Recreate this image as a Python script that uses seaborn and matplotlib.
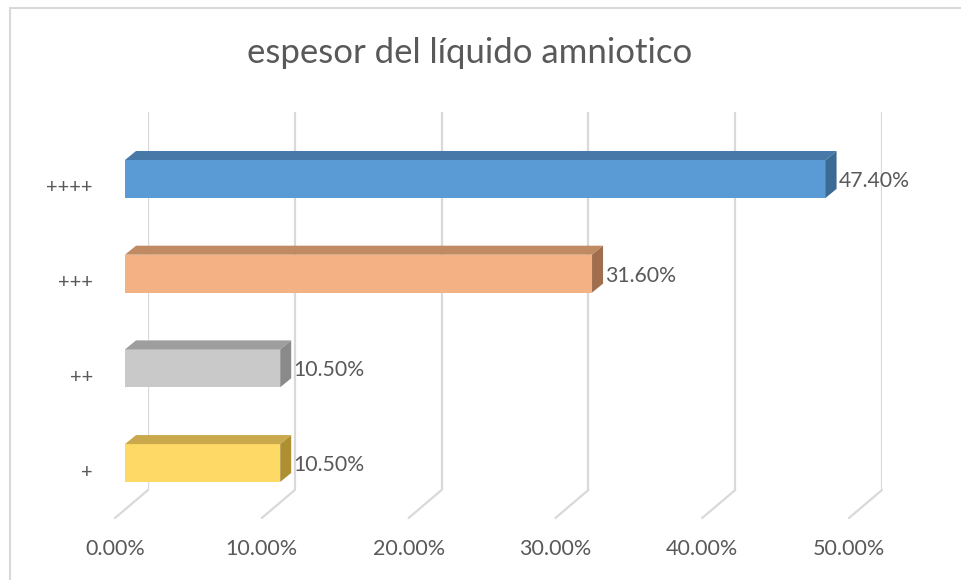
import matplotlib
matplotlib.use("Agg")
import matplotlib.pyplot as plt
import seaborn as sns
import pandas as pd
from matplotlib.patches import Polygon
from matplotlib.lines import Line2D
from matplotlib.transforms import IdentityTransform, ScaledTranslation

# chart data
categories = ['++++', '+++', '++', '+']
values = [47.4, 31.6, 10.5, 10.5]
value_labels = ['47.40%', '31.60%', '10.50%', '10.50%']
ticks = [0, 10, 20, 30, 40, 50]
tick_labels = ['0.00%', '10.00%', '20.00%', '30.00%', '40.00%', '50.00%']
title = 'espesor del líquido amniotico'

# colours: front face, top face, end face
front_colors = ['#5B9BD5', '#F4B183', '#C9C9C9', '#FFD966']
top_colors = ['#4878A8', '#C08A63', '#9E9E9E', '#C9A94C']
side_colors = ['#3B6A94', '#A06D4D', '#8A8A8A', '#AE9033']

text_color = '#595959'
grid_color = '#D9D9D9'

sns.set_theme(style='white')
plt.rcParams['font.family'] = ['Lato', 'DejaVu Sans']

W, H = 961, 580
fig = plt.figure(figsize=(W / 100, H / 100), dpi=100)

# back wall axes (gridlines + tick labels)
ax_back = fig.add_axes([148 / W, 90 / H, 734 / W, 378 / H], zorder=0)
ax_back.set_xlim(0, 50)
ax_back.set_ylim(0, 1)
ax_back.axis('off')
ax_back.vlines(ticks, 0, 1, color=grid_color, lw=1.6)

# front axes with the bars
ax = fig.add_axes([125 / W, 90 / H, 739 / W, 378 / H], zorder=1)
ax.patch.set_alpha(0)
df = pd.DataFrame({'cat': categories, 'val': values})
sns.barplot(data=df, y='cat', x='val', hue='cat', order=categories,
            hue_order=categories, palette=front_colors, saturation=1,
            width=0.4, legend=False, linewidth=0, ax=ax)
ax.set_xlim(0, 50)
ax.set_ylim(3.285, -0.707)
ax.set_xlabel('')
ax.set_ylabel('')
ax.set_xticks([])
ax.set_yticks([])
sns.despine(ax=ax, left=True, bottom=True)

# floor diagonals under the back gridlines
idt = IdentityTransform()
for t in ticks:
    px, py = ax_back.transData.transform((t, 0))
    fig.add_artist(Line2D([px, px - 33], [py, py - 28], transform=idt,
                          color=grid_color, lw=1.6))

off = fig.dpi_scale_trans
for t, lbl in zip(ticks, tick_labels):
    ax_back.text(t, 0, lbl, transform=ax_back.get_xaxis_transform() + ScaledTranslation(-0.33, -0.59, off),
                 ha='center', va='center', fontsize=15.5, color=text_color)

# 3d top and end faces from the drawn bars
dx, dy = 11, 9
fig.canvas.draw()
for patch, tc, sc in zip(ax.patches, top_colors, side_colors):
    bb = patch.get_window_extent()
    x0, x1, y0, y1 = bb.x0, bb.x1, bb.y0, bb.y1
    top = Polygon([(x0, y1), (x0 + dx, y1 + dy), (x1 + dx, y1 + dy), (x1, y1)],
                  closed=True, transform=idt, facecolor=tc, edgecolor='none', zorder=3)
    side = Polygon([(x1, y0), (x1, y1), (x1 + dx, y1 + dy), (x1 + dx, y0 + dy)],
                   closed=True, transform=idt, facecolor=sc, edgecolor='none', zorder=3)
    fig.add_artist(top)
    fig.add_artist(side)

# value labels and category labels
for i, (v, lbl) in enumerate(zip(values, value_labels)):
    ax.text(v, i, lbl, transform=ax.transData + ScaledTranslation(0.13, -0.02, off),
            ha='left', va='center', fontsize=15.3, color=text_color)
for i, cat in enumerate(categories):
    ax.text(0, i, cat, transform=ax.get_yaxis_transform() + ScaledTranslation(-0.32, -0.09, off),
            ha='right', va='center', fontsize=14.5, color=text_color)

fig.text(470 / W, 1 - 53 / H, title, ha='center', va='center',
         fontsize=25, color=text_color)

# chart area border (left and top)
fig.add_artist(Line2D([10 / W, 10 / W], [0, 1 - 8 / H], color=grid_color, lw=1.5))
fig.add_artist(Line2D([10 / W, 1], [1 - 8 / H, 1 - 8 / H], color=grid_color, lw=1.5))

fig.savefig('out.png', dpi=100)
